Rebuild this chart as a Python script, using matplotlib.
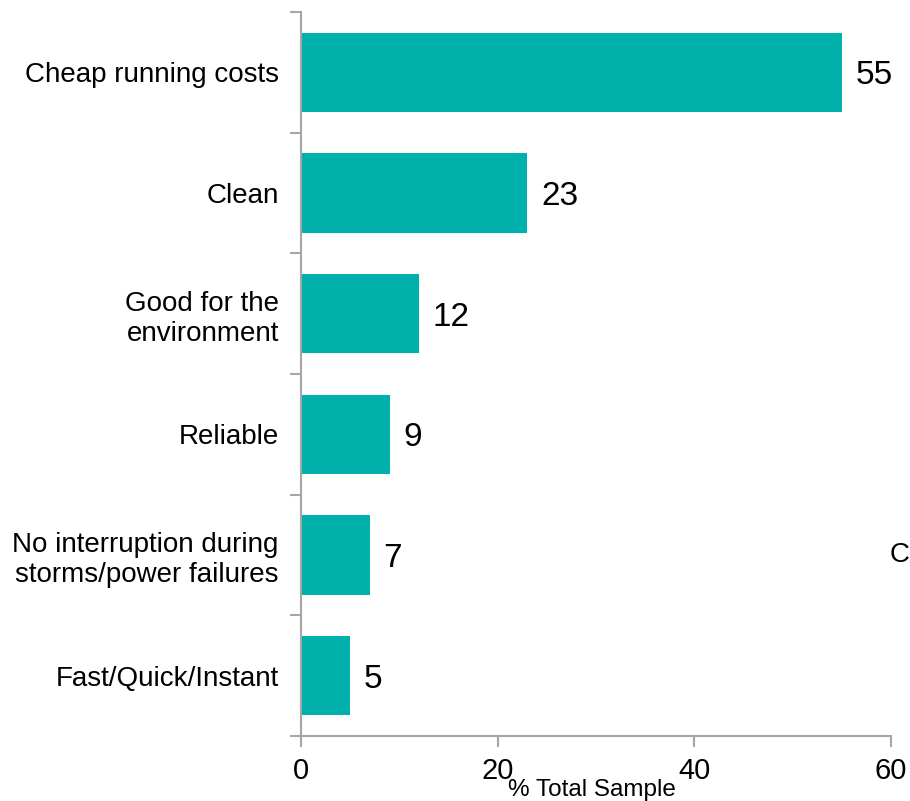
import matplotlib
matplotlib.use("Agg")
import matplotlib.pyplot as plt

plt.rcParams['font.family'] = ['Liberation Sans', 'DejaVu Sans']

categories = [
    "Cheap running costs",
    "Clean",
    "Good for the\nenvironment",
    "Reliable",
    "No interruption during\nstorms/power failures",
    "Fast/Quick/Instant",
]
values = [55, 23, 12, 9, 7, 5]
xticks = [0, 20, 40, 60]

bar_color = "#00B0AA"
axis_color = "#A6A6A6"

fig = plt.figure(figsize=(9.10, 8.01), dpi=100)
ax = fig.add_axes([301 / 910, 1 - 736 / 801, 590 / 910, 724 / 801])

n = len(categories)
ypos = list(range(n))
ax.barh(ypos, values, height=0.66, color=bar_color, zorder=2)
ax.set_ylim(n - 0.5, -0.5)
ax.set_xlim(0, 60)

for y, v in zip(ypos, values):
    ax.text(v + 1.4, y + 0.03, f"{v}", va="center", ha="left", fontsize=24, color="black")

# category labels centred on bars, tick marks at category boundaries
ax.set_yticks(ypos)
ax.set_yticklabels(categories, fontsize=20, ha="right", multialignment="right",
                   linespacing=1.22)
ax.tick_params(axis="y", which="major", length=0, pad=16)
ax.set_yticks([i - 0.5 for i in range(n + 1)], minor=True)
ax.tick_params(axis="y", which="minor", length=8, color=axis_color, width=1.5, direction="out")

ax.set_xticks(xticks)
ax.set_xticklabels([str(t) for t in xticks], fontsize=21)
ax.tick_params(axis="x", length=8, color=axis_color, width=1.5, direction="out", pad=7)

for side in ("top", "right"):
    ax.spines[side].set_visible(False)
for side in ("left", "bottom"):
    ax.spines[side].set_color(axis_color)
    ax.spines[side].set_linewidth(1.5)

fig.text(592 / 910, 1 - 790 / 801, "% Total Sample", ha="center", va="center", fontsize=17.5)
fig.text(900 / 910, 1 - 555 / 801, "C", ha="center", va="center", fontsize=20)

fig.savefig("out.png", dpi=100)
